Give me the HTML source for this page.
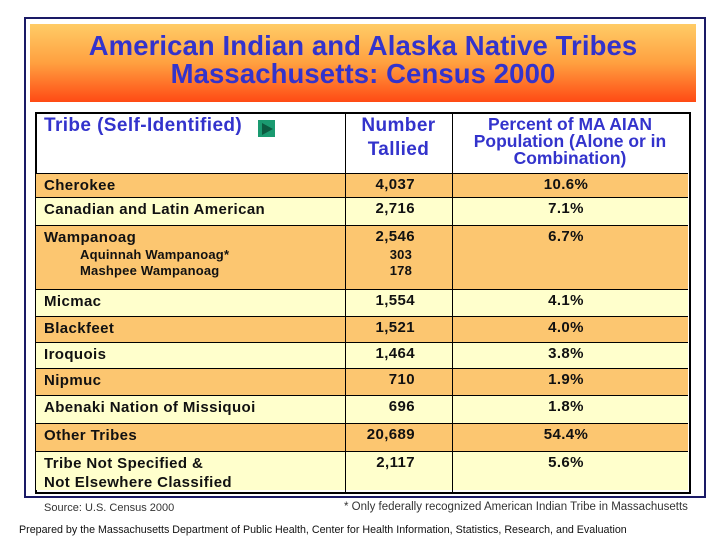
<!DOCTYPE html>
<html><head><meta charset="utf-8">
<style>
body{margin:0;width:720px;height:540px;background:#fff;position:relative;overflow:hidden;font-family:"Liberation Sans",Arial,sans-serif;}
.abs{position:absolute;}
#frame{left:24px;top:17px;width:678px;height:477px;border:2px solid #1a1a66;}
#band{left:30px;top:24px;width:666px;height:78px;background:linear-gradient(#ffcc66 0%,#ffa040 50%,#ff4a14 100%);}
.title{width:666px;text-align:center;color:#3333cc;font-weight:bold;font-size:27.5px;line-height:28px;letter-spacing:0.1px;}
#tbl{left:35px;top:112px;width:652px;height:378px;border:2px solid #000;}
.cell{position:absolute;box-sizing:border-box;font-size:15px;font-weight:bold;letter-spacing:0.4px;color:#111;white-space:nowrap;}
.hdr{color:#3333cc;font-size:19px;letter-spacing:0.4px;}
.vl{position:absolute;top:112px;width:1px;height:380px;background:#000;}
.hl{position:absolute;left:36px;width:652px;height:1px;background:#000;}
</style></head><body>
<div id="frame" class="abs"></div>
<div id="band" class="abs">
 <div class="title abs" style="top:8px">American Indian and Alaska Native Tribes</div>
 <div class="title abs" style="top:36px">Massachusetts: Census 2000</div>
</div>
<div id="tbl" class="abs"></div>
<div id="rows"></div>
<div class="cell hdr" style="left:44px;top:115px;">Tribe (Self-Identified)</div>
<div class="abs" style="left:258px;top:120px;width:17px;height:17px;background:#1a9a70;">
 <div style="position:absolute;left:4px;top:3px;width:0;height:0;border-left:11px solid #0b5a40;border-top:6px solid transparent;border-bottom:6px solid transparent;"></div></div>
<div class="cell hdr" style="left:345px;top:114px;width:107px;text-align:center;line-height:24px;">Number<br>Tallied</div>
<div class="cell hdr" style="left:452px;top:116px;width:236px;text-align:center;line-height:17px;font-size:17.5px;letter-spacing:0;">Percent of MA AIAN<br>Population (Alone or in<br>Combination)</div>
<div class="abs" style="left:44px;top:502px;font-size:11px;color:#333;">Source: U.S. Census 2000</div>
<div class="abs" style="left:344px;top:501px;font-size:11.5px;color:#333;white-space:nowrap;">* Only federally recognized American Indian Tribe in Massachusetts</div>
<div class="abs" style="left:19px;top:524px;font-size:10.7px;color:#111;white-space:nowrap;">Prepared by the Massachusetts Department of Public Health, Center for Health Information, Statistics, Research, and Evaluation</div>
<script>
const tribes=["Cherokee","Canadian and Latin American","Wampanoag","Micmac","Blackfeet","Iroquois","Nipmuc","Abenaki Nation of Missiquoi","Other Tribes","Tribe Not Specified &<br>Not Elsewhere Classified"];
const counts=["4,037","2,716","2,546","1,554","1,521","1,464","710","696","20,689","2,117"];
const percents=["10.6%","7.1%","6.7%","4.1%","4.0%","3.8%","1.9%","1.8%","54.4%","5.6%"];
const rowHeights=[24,28,64,27,26,26,27,28,28,39];
const subTribes=["Aquinnah Wampanoag*","Mashpee Wampanoag"];
const subCounts=["303","178"];
const host=document.getElementById('rows');
let y=173;
let h0=document.createElement('div');h0.className='hl';h0.style.top=y+'px';host.appendChild(h0);


tribes.forEach((t,i)=>{
 const h=rowHeights[i];
 const bg=document.createElement('div');
 bg.className='abs';
 bg.style.cssText=`left:36px;top:${y+1}px;width:652px;height:${h-1}px;background:${i%2===0?'#fcc670':'#ffffcc'}`;
 
 
 host.appendChild(bg);
 const a=document.createElement('div');a.className='cell';
 a.style.cssText=`left:44px;top:${y+3}px;line-height:19px;`;a.innerHTML=t;
 
 
 host.appendChild(a);
 const b=document.createElement('div');b.className='cell';
 b.style.cssText=`left:345px;top:${y+3}px;width:70px;text-align:right;`;b.textContent=counts[i];
 
 
 host.appendChild(b);
 const c=document.createElement('div');c.className='cell';
 c.style.cssText=`left:452px;top:${y+3}px;width:228px;text-align:center;`;c.textContent=percents[i];
 
 
 host.appendChild(c);
 if(i===2){
  subTribes.forEach((s,j)=>{
   const d=document.createElement('div');d.className='cell';
   d.style.cssText=`left:80px;top:${y+22+j*16}px;font-size:13px;letter-spacing:0.2px;`;d.textContent=s;
   
   
   host.appendChild(d);
   const e=document.createElement('div');e.className='cell';
   e.style.cssText=`left:345px;top:${y+22+j*16}px;width:67px;text-align:right;font-size:13px;letter-spacing:0.2px;`;e.textContent=subCounts[j];
   
   
   host.appendChild(e);
  });
 }
 y+=h;
 if(i<tribes.length-1){
  const l=document.createElement('div');l.className='hl';l.style.top=y+'px';
  
  
  host.appendChild(l);
 }
});
[345,452].forEach(x=>{
 const v=document.createElement('div');v.className='vl';v.style.left=x+'px';
 
 
 host.appendChild(v);
});
</script>
</body></html>
